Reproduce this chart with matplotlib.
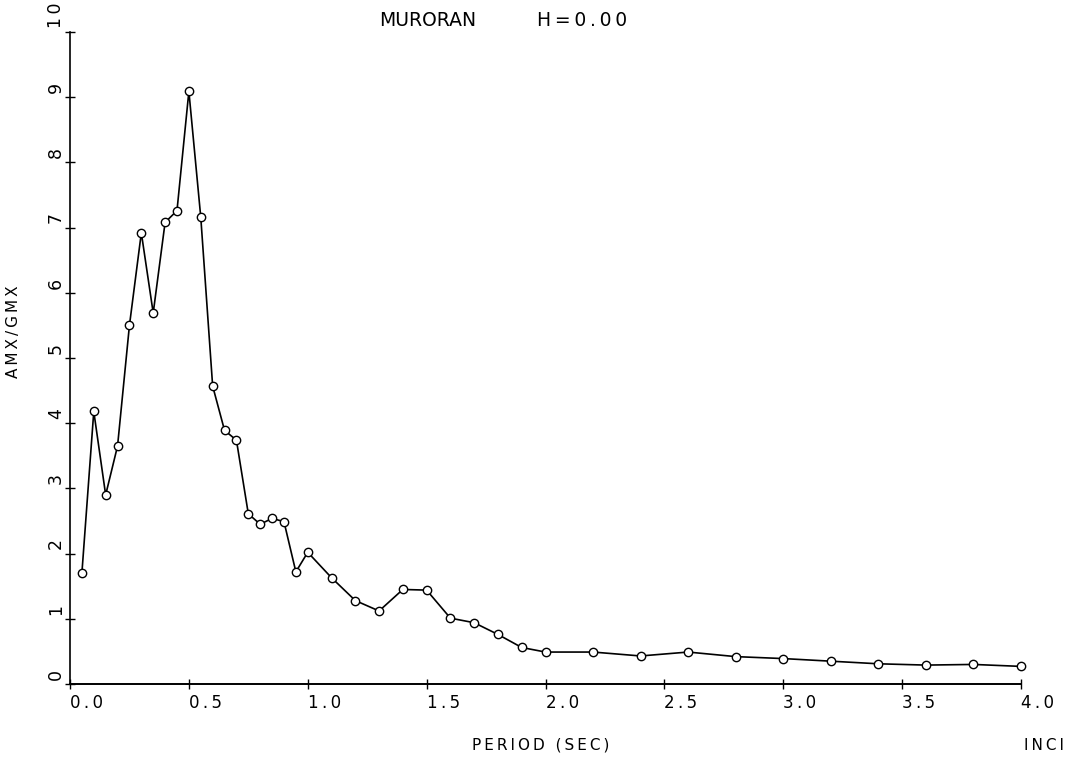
import matplotlib
matplotlib.use("Agg")
import matplotlib.pyplot as plt
from matplotlib.transforms import ScaledTranslation

# Response ratio AMX/GMX against period, station MURORAN, damping H=0.00
period = [0.05, 0.10, 0.15, 0.20, 0.25, 0.30, 0.35, 0.40, 0.45, 0.50,
          0.55, 0.60, 0.65, 0.70, 0.75, 0.80, 0.85, 0.90, 0.95, 1.00,
          1.1, 1.2, 1.3, 1.4, 1.5, 1.6, 1.7, 1.8, 1.9, 2.0,
          2.2, 2.4, 2.6, 2.8, 3.0, 3.2, 3.4, 3.6, 3.8, 4.0]
ratio = [1.70, 4.18, 2.90, 3.65, 5.50, 6.92, 5.69, 7.08, 7.26, 9.09,
         7.16, 4.57, 3.89, 3.74, 2.61, 2.45, 2.54, 2.49, 1.72, 2.02,
         1.63, 1.28, 1.12, 1.45, 1.44, 1.01, 0.94, 0.76, 0.56, 0.49,
         0.49, 0.43, 0.49, 0.42, 0.39, 0.35, 0.31, 0.29, 0.30, 0.27]

x_ticks = [0.0, 0.5, 1.0, 1.5, 2.0, 2.5, 3.0, 3.5, 4.0]
x_tick_labels = ["0.0", "0.5", "1.0", "1.5", "2.0", "2.5", "3.0", "3.5", "4.0"]
y_ticks = [0, 1, 2, 3, 4, 5, 6, 7, 8, 9, 10]
y_tick_labels = ["0", "1", "2", "3", "4", "5", "6", "7", "8", "9", "10"]

station = "MURORAN"
damping = "H=0.00"
x_label = "PERIOD (SEC)"
y_label = "AMX/GMX"
corner_label = "INCI"

plt.rcParams["font.family"] = ["DejaVu Sans"]


def spaced(s, gap="\u200a"):
    # plotter-style lettering: a small gap between characters
    return gap.join(s)


W, H = 1074, 762
fig = plt.figure(figsize=(W / 100, H / 100), dpi=100)
ax = fig.add_axes([70 / W, 1 - 684 / H, (1021 - 70) / W, (684 - 32) / H])

ax.plot(period, ratio, color="black", lw=1.2, marker="o", ms=6,
        mfc="white", mec="black", mew=1.0, clip_on=False, zorder=3)

ax.set_xlim(0, 4.0)
ax.set_ylim(0, 10)
for side in ("top", "right"):
    ax.spines[side].set_visible(False)
ax.spines["left"].set_linewidth(1.2)
ax.spines["bottom"].set_linewidth(1.4)

ax.set_xticks(x_ticks)
ax.set_xticklabels([spaced(t, "\u2009") for t in x_tick_labels],
                   fontsize=12, ha="left")
ax.set_yticks(y_ticks)
ax.set_yticklabels([spaced(t, "\u2009") for t in y_tick_labels],
                   fontsize=12.5, rotation=90, va="bottom", ha="center")
ax.tick_params(axis="both", direction="inout", length=7, width=1.0,
               color="black")
ax.tick_params(axis="x", pad=4)
ax.tick_params(axis="y", pad=6.5)

# lift the rotated labels so they start just above their tick marks
dy = ScaledTranslation(0, 3 / 72, fig.dpi_scale_trans)
for lab in ax.get_yticklabels():
    lab.set_transform(lab.get_transform() + dy)

fig.text(428 / W, 1 - 21 / H, station, ha="center",
         va="center", fontsize=13.5)
fig.text(582 / W, 1 - 21 / H, spaced(damping, "\u2009"), ha="center",
         va="center", fontsize=13.5)
fig.text(14 / W, 1 - 332 / H, spaced(y_label, "\u2009"), rotation=90,
         ha="center", va="center", fontsize=11)
fig.text(541 / W, 1 - 745 / H, spaced(x_label, "\u2009"), ha="center",
         va="center", fontsize=11)
fig.text(1044 / W, 1 - 746 / H, spaced(corner_label, "\u2009"),
         ha="center", va="center", fontsize=11)

fig.savefig("out.png", dpi=100, facecolor="white")
